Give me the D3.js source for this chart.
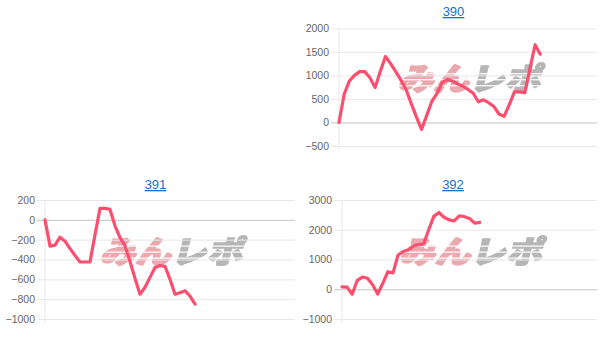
<!DOCTYPE html>
<html>
<head>
<meta charset="utf-8">
<script src="https://cdn.jsdelivr.net/npm/d3@7/dist/d3.min.js"></script>
<style>
  html, body { margin: 0; padding: 0; background: #fff; }
  svg { display: block; font-family: "Liberation Sans", Arial, sans-serif; }
</style>
</head>
<body>
<svg id="chart"></svg>
<script>
'use strict';

// machine numbers shown above each panel
const machines = ['390', '391', '392'];

// running coin difference, one value per game round
const diff390 = [0, 600, 880, 1000, 1080, 1080, 950, 740, 1080, 1400, 1250, 1080, 900, 700, 400, 120,
  -150, 150, 450, 620, 850, 910, 880, 820, 770, 700, 620, 440, 480, 420, 340, 180, 130, 380, 650, 650,
  630, 1140, 1650, 1450];
const diff391 = [0, -265, -255, -175, -215, -290, -360, -425, -425, -425, -150, 115, 115, 105, -60,
  -180, -260, -420, -590, -750, -680, -580, -480, -460, -470, -600, -750, -735, -715, -770, -850];
const diff392 = [80, 70, -170, 300, 410, 370, 150, -160, 200, 590, 550, 1150, 1270, 1330, 1450, 1500,
  1520, 2000, 2450, 2580, 2420, 2330, 2300, 2470, 2440, 2380, 2220, 2250];

// y tick labels per panel
const ticks390 = [-500, 0, 500, 1000, 1500, 2000];
const ticks391 = [-1000, -800, -600, -400, -200, 0, 200];
const ticks392 = [-1000, 0, 1000, 2000, 3000];

// number of round slots on the (unlabelled) x axis
const roundSlots = 51;

const W = 607, H = 341;

const svg = d3.select('#chart')
    .attr('width', W)
    .attr('height', H);

const panels = [
  {name: machines[0], data: diff390, ticks: ticks390, left: 339, right: 597, top: 28.3, bottom: 146, titleX: 453.5, titleY: 16},
  {name: machines[1], data: diff391, ticks: ticks391, left: 45, right: 295, top: 200, bottom: 319, titleX: 155.5, titleY: 189},
  {name: machines[2], data: diff392, ticks: ticks392, left: 342, right: 597, top: 200, bottom: 319, titleX: 453, titleY: 189}
];

panels.forEach(p => drawPanel(p));

function drawPanel(p) {
  const width = p.right - p.left;

  const x = d3.scaleLinear()
      .domain([0, roundSlots - 1])
      .range([p.left, p.right]);

  const y = d3.scaleLinear()
      .domain(d3.extent(p.ticks))
      .range([p.bottom, p.top]);

  const g = svg.append('g');

  // watermark
  const cx = (p.left + p.right) / 2;
  const cy = (p.top + p.bottom) / 2 - 8;
  const maskId = `wm-${p.name}`;
  const mask = svg.append('defs').append('mask')
      .attr('id', maskId)
      .attr('maskUnits', 'userSpaceOnUse');
  mask.append('rect')
      .attr('x', cx - 90).attr('y', cy - 20)
      .attr('width', 180).attr('height', 40)
      .style('fill', '#fff');
  [-6, 0, 6].forEach((dy, k) => {
    mask.append('rect')
        .attr('x', cx - 90 + k * 4).attr('y', cy + dy)
        .attr('width', 180).attr('height', 1.2)
        .style('fill', '#000');
  });

  const wm = g.append('g')
      .attr('mask', `url(#${maskId})`)
    .append('g')
      .attr('transform', `translate(${cx + 1}, ${cy + 11}) skewX(-14) scale(1.15, 1)`)
      .style('font-family', '"Noto Sans CJK JP", sans-serif')
      .style('font-weight', 900)
      .style('font-size', '31px')
      .style('stroke-width', 1.8)
      .style('stroke-linejoin', 'round');

  wm.append('text')
      .attr('x', -62)
      .attr('y', 0)
      .style('fill', '#eaa9ae')
      .style('stroke', '#eaa9ae')
      .text('みん');

  wm.append('text')
      .attr('x', 0)
      .attr('y', 0)
      .style('fill', '#b6b6b6')
      .style('stroke', '#b6b6b6')
      .text('レポ');

  // grid lines + y labels
  const yAxis = d3.axisLeft(y)
      .tickValues(p.ticks)
      .tickSize(width + 8)
      .tickPadding(2)
      .tickFormat(d3.format('d'));

  const ax = g.append('g')
      .attr('transform', `translate(${p.right}, 0)`)
      .call(yAxis);

  ax.select('.domain').remove();
  ax.selectAll('.tick line')
      .style('stroke', d => d === 0 ? '#c4c4c4' : '#e8e8e8')
      .style('stroke-width', 1);
  ax.selectAll('.tick text')
      .style('fill', '#666')
      .style('font-size', '10.5px')
      .style('font-family', '"Liberation Sans", Arial, sans-serif');

  g.append('line')
      .attr('x1', p.left).attr('x2', p.left)
      .attr('y1', p.top).attr('y2', p.bottom + 4)
      .style('stroke', '#e8e8e8');

  // title
  g.append('text')
      .attr('x', p.titleX)
      .attr('y', p.titleY)
      .attr('text-anchor', 'middle')
      .style('fill', '#1a6fcc')
      .style('font-size', '13px')
      .style('text-decoration', 'underline')
      .text(p.name);

  const line = d3.line()
      .x((d, i) => x(i))
      .y(d => y(d));

  g.append('path')
      .datum(p.data)
      .attr('d', line)
      .style('fill', 'none')
      .style('stroke', '#fc4f70')
      .style('stroke-width', 3.2)
      .style('stroke-linejoin', 'round')
      .style('stroke-linecap', 'round');
}
</script>
</body>
</html>
